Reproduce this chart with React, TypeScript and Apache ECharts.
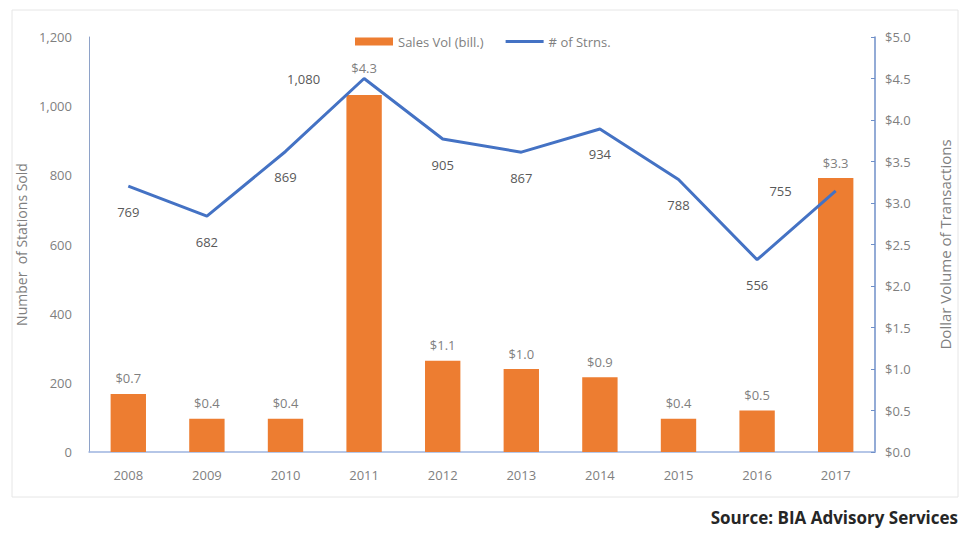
import React, { useEffect, useRef } from "react";
import * as echarts from "echarts";

const years = ["2008", "2009", "2010", "2011", "2012", "2013", "2014", "2015", "2016", "2017"];
const salesVol = [0.7, 0.4, 0.4, 4.3, 1.1, 1.0, 0.9, 0.4, 0.5, 3.3];
const stations = [769, 682, 869, 1080, 905, 867, 934, 788, 556, 755];
const leftLabelIdx = [3, 9];
const raisedBarIdx = [3];

const FONT = "'Open Sans', sans-serif";
const fmtNum = (v: number) => v.toLocaleString("en-US");

export default function App() {
  const ref = useRef<HTMLDivElement>(null);
  useEffect(() => {
    if (!ref.current) return;
    const chart = echarts.init(ref.current, null, { renderer: "svg" });
    chart.setOption({
      animation: false,
      textStyle: { fontFamily: FONT },
      grid: { left: 89, right: 85, top: 37, bottom: 81 },
      legend: {
        left: 350,
        top: 30,
        itemGap: 22,
        itemWidth: 38,
        itemHeight: 8,
        textStyle: { color: "#7f7f7f", fontSize: 13, fontFamily: FONT },
        data: [
          { name: "Sales Vol (bill.)", icon: "rect" },
          { name: "# of Strns.", icon: "path://M0,0h38v3h-38z" },
        ],
      },
      xAxis: {
        type: "category",
        data: years,
        axisLine: { show: true, lineStyle: { color: "#9db4e0", width: 1.5 } },
        axisTick: { show: false },
        axisLabel: { color: "#7f7f7f", fontSize: 13, margin: 16, fontFamily: FONT },
      },
      yAxis: [
        {
          type: "value",
          min: 0,
          max: 1200,
          interval: 200,
          name: "Number  of Stations Sold",
          nameLocation: "middle",
          nameGap: 61,
          nameTextStyle: { color: "#7f7f7f", fontSize: 14, fontFamily: FONT },
          axisLine: { show: true, lineStyle: { color: "#8ea2c8", width: 1 } },
          axisTick: { show: false },
          splitLine: { show: false },
          axisLabel: { color: "#7f7f7f", fontSize: 13, margin: 17, formatter: fmtNum, fontFamily: FONT },
        },
        {
          type: "value",
          min: 0,
          max: 5,
          interval: 0.5,
          name: "Dollar Volume of Transactions",
          nameLocation: "middle",
          nameGap: 62,
          nameRotate: 90,
          nameTextStyle: { color: "#7f7f7f", fontSize: 15, fontFamily: FONT },
          axisLine: { show: true, lineStyle: { color: "#6f8fc8", width: 1.5 } },
          axisTick: { show: true, inside: true, length: 4, lineStyle: { color: "#6f8fc8" } },
          splitLine: { show: false },
          axisLabel: {
            color: "#7f7f7f",
            fontSize: 13,
            margin: 10,
            fontFamily: FONT,
            formatter: (v: number) => "$" + v.toFixed(1),
          },
        },
      ],
      series: [
        {
          name: "Sales Vol (bill.)",
          type: "bar",
          yAxisIndex: 1,
          barWidth: "45%",
          itemStyle: { color: "#ed7d31" },
          label: {
            show: true,
            position: "top",
            distance: 9,
            color: "#7f7f7f",
            fontSize: 13,
            fontFamily: FONT,
            formatter: (p: any) => "$" + Number(p.value).toFixed(1),
          },
          data: salesVol.map((v, i) =>
            raisedBarIdx.includes(i) ? { value: v, label: { distance: 21 } } : v
          ),
          z: 2,
        },
        {
          name: "# of Strns.",
          type: "line",
          yAxisIndex: 0,
          symbol: "circle",
          symbolSize: 0,
          showSymbol: true,
          lineStyle: { color: "#4472c4", width: 3 },
          itemStyle: { color: "#4472c4" },
          label: {
            show: true,
            position: "bottom",
            distance: 19,
            color: "#595959",
            fontSize: 13,
            fontFamily: FONT,
            formatter: (p: any) => fmtNum(Number(p.value)),
          },
          data: stations.map((v, i) =>
            leftLabelIdx.includes(i)
              ? { value: v, label: { position: "left", distance: 44 } }
              : v
          ),
          z: 3,
        },
      ],
      graphic: [
        {
          type: "rect",
          shape: { x: 12, y: 10, width: 946, height: 487 },
          style: { fill: "none", stroke: "#e6e6e6", lineWidth: 1 },
          silent: true,
        },
        {
          type: "text",
          right: 2,
          top: 509,
          style: {
            text: "Source: BIA Advisory Services",
            fill: "#262626",
            font: "bold 17px 'Open Sans', sans-serif",
          },
        },
      ],
    });
    return () => chart.dispose();
  }, []);
  return (
    <div
      ref={ref}
      style={{ position: "fixed", left: 0, top: 0, width: 960, height: 533, background: "#fff" }}
    />
  );
}
